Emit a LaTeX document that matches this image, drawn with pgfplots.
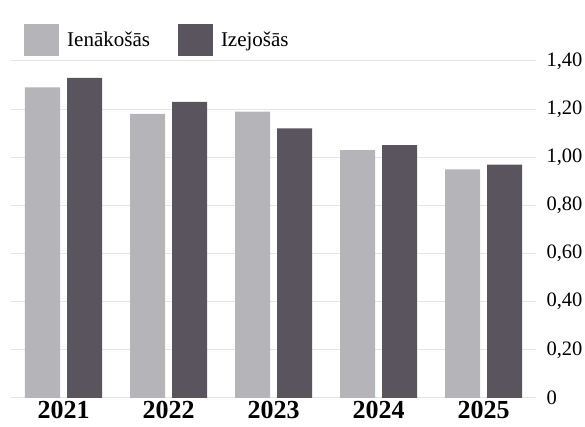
\documentclass[border=0pt]{standalone}
\usepackage{pgfplots}
\pgfplotsset{compat=1.18}
\usepackage{fontspec}
\setmainfont{Liberation Serif}
\definecolor{lightbar}{RGB}{180,180,185}
\definecolor{darkbar}{RGB}{90,84,94}
\definecolor{gridc}{RGB}{228,228,230}
\begin{document}
\begin{tikzpicture}[x=1pt,y=1pt]
\path[use as bounding box] (-11,-29) rectangle (574,398);
\begin{axis}[
  scale only axis,
  width=525pt, height=337pt,
  ybar=7pt, bar width=35pt,
  xmin=-0.5, xmax=4.5, ymin=0, ymax=1.4,
  xtick={0,1,2,3,4},
  xticklabels={2021,2022,2023,2024,2025},
  xticklabel style={font=\bfseries\fontsize{26}{28}\selectfont, yshift=-2pt, inner sep=1pt},
  ytick={0,0.2,0.4,0.6,0.8,1.0,1.2,1.4},
  yticklabels={0,{0,20},{0,40},{0,60},{0,80},{1,00},{1,20},{1,40}},
  yticklabel pos=right,
  yticklabel style={anchor=west, xshift=7pt, font=\fontsize{20.5}{24}\selectfont},
  ymajorgrids, grid style={gridc, line width=1pt},
  axis line style={draw=none},
  major tick length=0pt,
  legend columns=2,
  legend image code/.code={\fill[#1] (0pt,-16pt) rectangle (35pt,16pt);},
  legend style={draw=none, fill=none, inner sep=0pt,
    at={(axis description cs:0,1)}, anchor=south west, xshift=13pt, yshift=5pt,
    font=\fontsize{21}{24}\selectfont,
    /tikz/every odd column/.append style={column sep=6pt},
    /tikz/every even column/.append style={column sep=26pt}},
]
\addplot[fill=lightbar, draw=none] coordinates {(0,1.29) (1,1.18) (2,1.19) (3,1.03) (4,0.95)};
\addplot[fill=darkbar, draw=none] coordinates {(0,1.33) (1,1.23) (2,1.12) (3,1.05) (4,0.97)};
\legend{Ienākošās, Izejošās}
\end{axis}
\end{tikzpicture}
\end{document}
